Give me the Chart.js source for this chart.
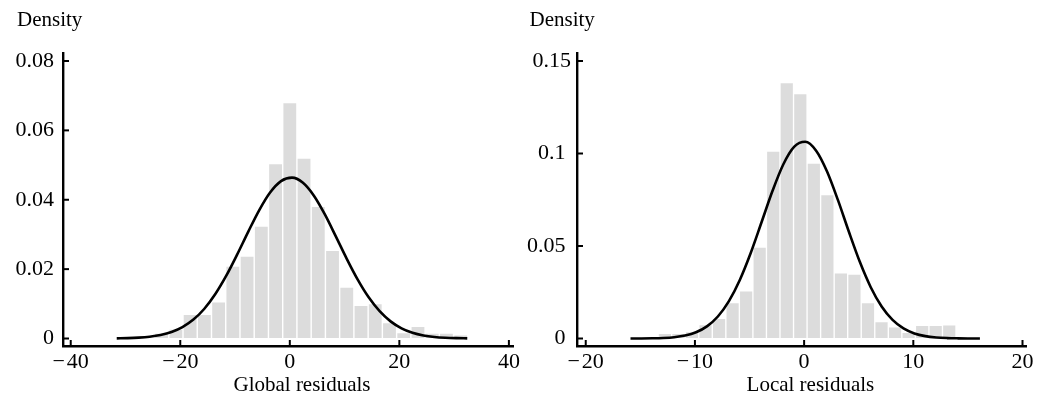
<!DOCTYPE html>
<html>
<head>
<meta charset="utf-8">
<script src="https://cdn.jsdelivr.net/npm/chart.js@4.4.1/dist/chart.umd.min.js"></script>
<style>
  html, body { margin: 0; padding: 0; background: #fff; }
  #wrap { position: relative; width: 1051px; height: 395px; overflow: hidden; }
  canvas { position: absolute; top: 0; }
</style>
</head>
<body>
<div id="wrap">
  <canvas id="globalPanel" width="525" height="395" style="left:0px"></canvas>
  <canvas id="localPanel" width="526" height="395" style="left:525px"></canvas>
</div>
<script>
// ---- Global residuals: histogram on a density scale + fitted normal curve ----
const globalBinCenters = [-23.4, -20.8, -18.2, -15.6, -13.0, -10.4, -7.8, -5.2, -2.6, 0, 2.6,
  5.2, 7.8, 10.4, 13.0, 15.6, 18.2, 20.8, 23.4, 26.0, 28.6, 31.2];
const globalDensity = [0.0014, 0.0025, 0.0068, 0.0068, 0.0104, 0.0207, 0.0236, 0.0322, 0.0502, 0.0678, 0.0518,
  0.0379, 0.0252, 0.0146, 0.0094, 0.0099, 0.0044, 0.0015, 0.0033, 0.0014, 0.0014, 0.0009];
const globalCurveX = [-31.6, -29.6, -27.6, -25.6, -23.6, -21.6, -19.6, -17.6, -15.6, -13.6, -11.6, -9.6,
  -7.6, -5.6, -3.6, -1.6, 0.4, 2.4, 4.4, 6.4, 8.4, 10.4, 12.4, 14.4, 16.4, 18.4, 20.4, 22.4, 24.4,
  26.4, 28.4, 30.4, 32.4];
const globalCurveY = [0.00005, 0.00011, 0.00025, 0.00052, 0.00101, 0.00187, 0.00328, 0.00545, 0.00858,
  0.01281, 0.01810, 0.02424, 0.03075, 0.03696, 0.04209, 0.04539, 0.04639, 0.04491, 0.04118, 0.03578,
  0.02945, 0.02297, 0.01697, 0.01187, 0.00787, 0.00494, 0.00294, 0.00166, 0.00089, 0.00045, 0.00022,
  0.00010, 0.00004];
const globalXTicks = [-40, -20, 0, 20, 40];
const globalXTickLabels = ['\u2212\u200A40', '\u2212\u200A20', '0', '20', '40'];
const globalYTicks = [0, 0.02, 0.04, 0.06, 0.08];
const globalYTickLabels = ['0', '0.02', '0.04', '0.06', '0.08'];

// ---- Local residuals ----
const localBinCenters = [-12.75, -11.51, -10.27, -9.03, -7.79, -6.55, -5.31, -4.07, -2.83, -1.59, -0.35,
  0.89, 2.13, 3.37, 4.61, 5.85, 7.09, 8.33, 9.57, 10.81, 12.05, 13.29];
const localDensity = [0.0025, 0.0025, 0.0034, 0.0072, 0.0105, 0.0190, 0.0254, 0.0491, 0.1009, 0.1380, 0.1320,
  0.0944, 0.0775, 0.0351, 0.0344, 0.0191, 0.0088, 0.0059, 0.0030, 0.0067, 0.0067, 0.0070];
const localCurveX = [-15.9, -14.9, -13.9, -12.9, -11.9, -10.9, -9.9, -8.9, -7.9, -6.9, -5.9, -4.9, -3.9,
  -2.9, -1.9, -0.9, 0.1, 1.1, 2.1, 3.1, 4.1, 5.1, 6.1, 7.1, 8.1, 9.1, 10.1, 11.1, 12.1, 13.1, 14.1,
  15.1, 16.1];
const localCurveY = [0.00001, 0.00004, 0.00012, 0.00030, 0.00072, 0.00162, 0.00338, 0.00657, 0.01190,
  0.02006, 0.03152, 0.04610, 0.06282, 0.07971, 0.09421, 0.10370, 0.10632, 0.10151, 0.09027, 0.07477,
  0.05768, 0.04144, 0.02773, 0.01728, 0.01003, 0.00542, 0.00273, 0.00128, 0.00056, 0.00023, 0.00009,
  0.00003, 0.00001];
const localXTicks = [-20, -10, 0, 10, 20];
const localXTickLabels = ['\u2212\u200A20', '\u2212\u200A10', '0', '10', '20'];
const localYTicks = [0, 0.05, 0.1, 0.15];
const localYTickLabels = ['0 ', '0.05 ', '0.1 ', '0.15'];

const FONT = '"Liberation Serif", "Times New Roman", serif';
const TITLE_SIZE = 21;
const TICK_SIZE = 22;
Chart.defaults.font.family = FONT;
Chart.defaults.font.size = TICK_SIZE;
Chart.defaults.color = '#000';

// Inward tick marks plus the free-standing axis titles
const axisDecor = {
  id: 'axisDecor',
  afterDraw(chart, args, o) {
    const { ctx, chartArea } = chart;
    const xs = chart.scales.x, ys = chart.scales.y;
    ctx.save();
    ctx.strokeStyle = '#000';
    ctx.lineWidth = 2;
    xs.ticks.forEach(t => {
      const px = xs.getPixelForValue(t.value);
      ctx.beginPath();
      ctx.moveTo(px, chartArea.bottom);
      ctx.lineTo(px, chartArea.bottom - 6);
      ctx.stroke();
    });
    ys.ticks.forEach(t => {
      const py = ys.getPixelForValue(t.value);
      ctx.beginPath();
      ctx.moveTo(chartArea.left, py);
      ctx.lineTo(chartArea.left + 6, py);
      ctx.stroke();
    });
    ctx.fillStyle = '#000';
    ctx.font = TITLE_SIZE + 'px ' + FONT;
    ctx.textBaseline = 'alphabetic';
    ctx.textAlign = 'left';
    ctx.fillText(o.yTitle, o.yTitleX, o.yTitleY);
    ctx.textAlign = 'center';
    ctx.fillText(o.xTitle, o.xTitleX, o.xTitleY);
    ctx.restore();
  }
};

function panel(canvasId, p) {
  return new Chart(document.getElementById(canvasId), {
    data: {
      datasets: [
        {
          type: 'line',
          order: 0,
          data: p.curveX.map((x, i) => ({ x: x, y: p.curveY[i] })),
          borderColor: '#000',
          borderWidth: 2.6,
          pointRadius: 0,
          cubicInterpolationMode: 'monotone',
          fill: false
        },
        {
          type: 'bar',
          order: 1,
          data: p.binCenters.map((x, i) => ({ x: x, y: p.density[i] })),
          backgroundColor: '#dcdcdc',
          borderWidth: 0,
          categoryPercentage: 1,
          barPercentage: 0.9
        }
      ]
    },
    options: {
      responsive: false,
      animation: false,
      devicePixelRatio: 1,
      layout: { padding: { left: 0, top: p.padTop, right: p.padRight, bottom: 0 } },
      plugins: {
        legend: { display: false },
        tooltip: { enabled: false },
        axisDecor: p.decor
      },
      scales: {
        x: {
          type: 'linear',
          offset: false,
          min: p.xMin,
          max: p.xMax,
          afterBuildTicks: s => { s.ticks = p.xTicks.map(v => ({ value: v })); },
          afterFit: s => { s.height = p.xAxisHeight; },
          ticks: {
            autoSkip: false,
            maxRotation: 0,
            padding: 3,
            callback: (v, i) => p.xTickLabels[i]
          },
          grid: { display: true, offset: false, drawOnChartArea: false, drawTicks: false, color: 'rgba(0,0,0,0)' },
          border: { display: true, color: '#000', width: 2.4 }
        },
        y: {
          type: 'linear',
          min: p.yMin,
          max: p.yMax,
          afterBuildTicks: s => { s.ticks = p.yTicks.map(v => ({ value: v })); },
          afterFit: s => { s.width = p.yAxisWidth; },
          ticks: {
            padding: p.yLabelPad,
            callback: (v, i) => p.yTickLabels[i]
          },
          grid: { display: true, drawOnChartArea: false, drawTicks: false, color: 'rgba(0,0,0,0)' },
          border: { display: true, color: '#000', width: 2.4 }
        }
      }
    },
    plugins: [axisDecor]
  });
}

panel('globalPanel', {
  binCenters: globalBinCenters, density: globalDensity,
  curveX: globalCurveX, curveY: globalCurveY,
  xTicks: globalXTicks, xTickLabels: globalXTickLabels,
  yTicks: globalYTicks, yTickLabels: globalYTickLabels,
  xMin: -41.41, xMax: 40.75, yMin: -0.00216, yMax: 0.08222,
  padTop: 53.3, padRight: 12, yAxisWidth: 63, xAxisHeight: 49, yLabelPad: 9,
  decor: { yTitle: 'Density', yTitleX: 17, yTitleY: 26, xTitle: 'Global residuals', xTitleX: 302, xTitleY: 391 }
});

panel('localPanel', {
  binCenters: localBinCenters, density: localDensity,
  curveX: localCurveX, curveY: localCurveY,
  xTicks: localXTicks, xTickLabels: localXTickLabels,
  yTicks: localYTicks, yTickLabels: localYTickLabels,
  xMin: -20.8, xMax: 20.32, yMin: -0.00405, yMax: 0.15416,
  padTop: 53.3, padRight: 25, yAxisWidth: 52, xAxisHeight: 49, yLabelPad: 6,
  decor: { yTitle: 'Density', yTitleX: 4.5, yTitleY: 26, xTitle: 'Local residuals', xTitleX: 285.4, xTitleY: 391 }
});
</script>
</body>
</html>
